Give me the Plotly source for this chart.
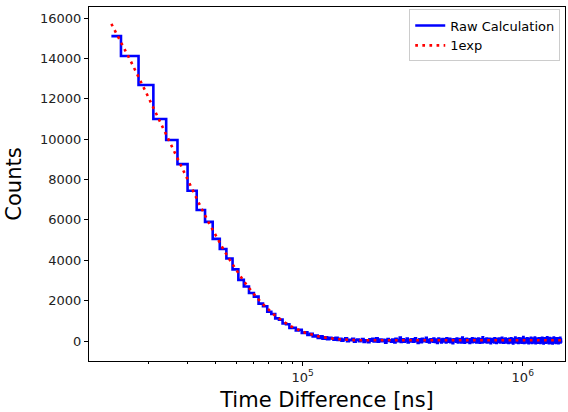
import numpy as np
import plotly.graph_objects as go

# Histogram bins (ns): regular 3000 ns bins, first centre at 13500 ns
bin_first_centre = 13500
bin_width = 3000
n_bins = 495
time_ns = bin_first_centre + bin_width * np.arange(n_bins)

# Raw counts per bin
counts_decay = [15100, 14120, 12680, 11000, 9960, 8760, 7440, 6490, 5900, 5060,
                4560, 4090, 3550, 3030, 2700, 2380, 2200, 1850, 1720, 1450,
                1340, 1120, 1060, 870, 830, 650, 660, 520, 560, 400,
                430, 300, 360, 220, 270, 150, 230, 120, 190, 90, 160]
counts_tail = [
    130, 70, 160, 50, 105, 10, 75, 135, -15, 60, 35, 110, -40, 50, 70, -15, 35, 100, -50, 30,
    35, -55, 85, 15, 105, -20, 40, 135, -40, 30, 70, -5, 55, 20, -85, 50, 100, 0, 35, -35,
    75, 15, -65, 110, 30, -15, 65, 170, -50, 20, 85, -30, 40, 5, 120, -70, 35, 55, -20, 90,
    15, -40, 70, 135, -5, 30, -100, 50, 85, 20, -55, 105, 35, -15, 70, 5, 155, -35, 40, 65,
    -75, 30, 90, 0, 55, -30, 120, 15, -50, 75, 35, -90, 40, 125, -15, 20, 70, -65, 50, 100,
    -20, 5, 85, 35, -70, 140, 30, -35, 65, 15, 105, -55, 50, 0, 75, -110, 40, 90, -5, 30,
    55, -40, 125, 20, -75, 70, 35, -20, 100, 5, -65, 50, 170, -30, 40, 85, -85, 15, 65, -15,
    110, 30, -50, 75, 0, 35, -100, 90, 55, -30, 20, 135, -55, 40, 70, -5, 105, -40, 30, 15,
    -70, 85, 50, -20, 120, 0, 65, -85, 35, 100, -35, 15, 75, -65, 180, 30, -15, 55, -50, 90,
    20, -30, 70, 125, -75, 40, 5, 85, -55, 35, 110, -20, 50, -105, 65, 15, 100, -40, 30, 75,
    -15, 55, -70, 140, 20, -35, 85, 40, -90, 65, 5, 105, -50, 35, 70, -30, 120, 0, -65, 50,
    85, -20, 30, 155, -55, 40, 75, -85, 20, 100, -5, 55, -40, 125, 15, -75, 65, 35, -30, 90,
    0, 70, -100, 50, 110, -35, 30, 85, -65, 15, 135, -15, 55, -50, 75, 20, -120, 40, 100, -20,
    65, -55, 35, 170, -30, 5, 85, -70, 50, 105, -40, 20, 70, -90, 55, 140, -15, 30, -65, 75,
    40, -35, 120, -5, 65, -85, 30, 90, -50, 15, 195, -20, 50, -100, 70, 35, -55, 105, 0, 40,
    -75, 85, 20, -30, 135, 55, -65, 30, 75, -105, 50, 110, -15, 35, -70, 90, 15, -40, 155, 65,
    -30, 40, -90, 100, 20, -55, 70, 125, -35, 5, 85, -75, 50, 175, -20, 30, -110, 65, 105, -50,
    35, 75, -65, 15, 120, -30, 55, -85, 90, 40, -15, 140, -55, 20, 70, -100, 50, 110, -35, 30,
    85, -50, 5, 160, -70, 55, 35, -20, 100, -120, 40, 75, -40, 15, 135, -65, 65, 30, -85, 105,
    -15, 50, 90, -55, 20, 180, -35, 70, -75, 35, 110, -5, 55, -105, 85, 30, -50, 145, 0, -70,
    65, 100, -30, 40, -90, 125, 15, -55, 75, 50, -125, 35, 105, -20, 70, -65, 170, 5, -40, 55,
    90, -75, 30, 120, -35, 65, -100, 40, 140, -15, 20, -85, 75, 50, -55, 110, 15, -30, 85, -110,
    55, 135, -50, 35, -70, 100, 20, -35, 155, -65, 40, 75, -20, 30]
counts = counts_decay + counts_tail

# Single-exponential fit curve
fit_decay = [15710, 13881, 12265, 10837, 9576, 8462, 7478, 6608, 5840, 5162,
             4562, 4033, 3565, 3152, 2787, 2464, 2179, 1927, 1705, 1509,
             1335, 1182, 1046, 927, 821, 728, 645, 572, 508, 451,
             401, 356, 317, 283, 252, 225, 201, 180, 161, 145,
             130, 117, 106, 96, 87, 79, 72, 66, 61, 56,
             52, 48, 45, 42, 39, 37, 35, 35, 35, 35, 35]
fit_tail_time_ns = [300000, 600000, 1000000, 1495500]
fit_tail = [35, 35, 35, 35]
fit_time_ns = list(time_ns[:len(fit_decay)]) + fit_tail_time_ns
fit_counts = fit_decay + fit_tail

x_tick_vals = [1e5, 1e6]
x_tick_text = ["10<sup>5</sup>", "10<sup>6</sup>"]
x_minor_vals = [2e4, 3e4, 4e4, 5e4, 6e4, 7e4, 8e4, 9e4,
                2e5, 3e5, 4e5, 5e5, 6e5, 7e5, 8e5, 9e5]
y_tick_vals = [0, 2000, 4000, 6000, 8000, 10000, 12000, 14000, 16000]

font_family = "DejaVu Sans"

fig = go.Figure()
fig.add_trace(go.Scatter(
    x=time_ns, y=counts, mode="lines", name="Raw Calculation",
    line=dict(color="#0000ff", width=2.6, shape="hvh", simplify=False)))
fig.add_trace(go.Scatter(
    x=fit_time_ns, y=fit_counts, mode="lines", name="1exp",
    line=dict(color="#ff0000", width=2.6, dash="2.7px,4.4px")))

axis_common = dict(showgrid=False, zeroline=False, showline=True, linecolor="black",
                   linewidth=1, mirror=True, ticks="outside", tickcolor="black",
                   ticklen=4, tickwidth=1, automargin=False,
                   tickfont=dict(family=font_family, size=13, color="#222222"))

fig.update_xaxes(type="log", range=[4.0286, 6.192],
                 tickvals=x_tick_vals, ticktext=x_tick_text,
                 minor=dict(tickvals=x_minor_vals, ticklen=2, tickcolor="black",
                            ticks="outside", showgrid=False),
                 title=dict(text="Time Difference [ns]", standoff=11,
                            font=dict(family=font_family, size=21, color="black")),
                 **axis_common)
fig.update_yaxes(range=[-990, 16545], tickvals=y_tick_vals, tickformat="d",
                 title=dict(text="Counts", standoff=12,
                            font=dict(family=font_family, size=21, color="black")),
                 **axis_common)

fig.update_layout(
    width=568, height=412,
    margin=dict(l=89, r=3, t=7, b=51, autoexpand=False),
    paper_bgcolor="white", plot_bgcolor="white",
    font=dict(family=font_family, size=13, color="black"),
    showlegend=True,
    legend=dict(x=0.99, y=0.993, xanchor="right", yanchor="top",
                bgcolor="rgba(255,255,255,0.8)", bordercolor="#cccccc", borderwidth=1,
                font=dict(family=font_family, size=13, color="black"),
                tracegroupgap=0, itemwidth=30),
)

fig.write_html("out.html", config={"displayModeBar": False},
               post_script="document.body.style.margin='0';document.body.style.overflow='hidden';")
